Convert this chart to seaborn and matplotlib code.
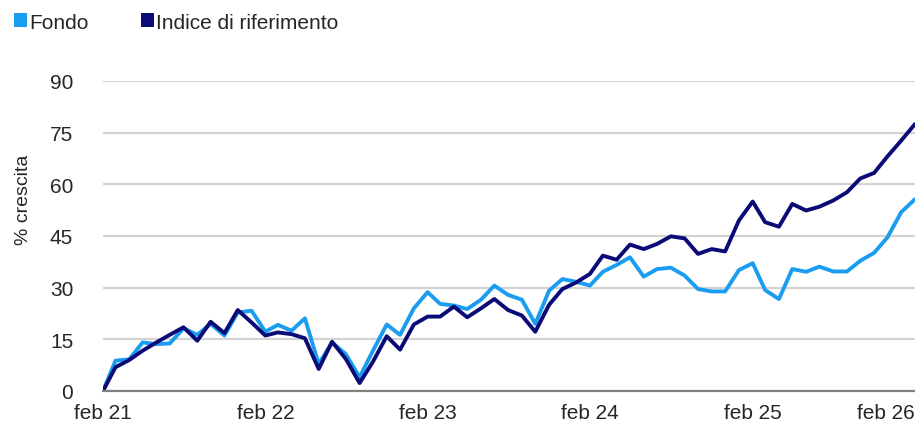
import pandas as pd
import seaborn as sns
import matplotlib.pyplot as plt
from matplotlib.patches import Patch

# monthly growth (%), feb 2021 -> feb 2026
months = pd.date_range("2021-02-01", periods=61, freq="MS")

fondo = [0, 8.8, 9.2, 14.1, 13.6, 13.8, 18.2, 16.3, 19.5, 16.1, 22.8, 23.3,
         17.2, 19.2, 17.5, 21.1, 7.8, 14.1, 10.7, 4.0, 11.7, 19.3, 16.3, 24.0,
         28.7, 25.3, 24.8, 23.8, 26.5, 30.6, 27.9, 26.5, 19.5, 29.1, 32.5, 31.7,
         30.6, 34.6, 36.6, 38.8, 33.2, 35.4, 35.8, 33.5, 29.6, 28.9, 28.9, 35.1,
         37.1, 29.3, 26.7, 35.4, 34.6, 36.1, 34.7, 34.7, 37.8, 40.1, 44.6, 51.9,
         55.7]
indice = [0, 6.9, 9.0, 11.7, 14.1, 16.3, 18.5, 14.6, 20.1, 16.8, 23.5, 19.9,
          16.1, 17.0, 16.5, 15.3, 6.4, 14.3, 9.3, 2.3, 8.5, 15.9, 12.0, 19.3,
          21.6, 21.6, 24.5, 21.4, 24.0, 26.7, 23.5, 21.9, 17.2, 25.0, 29.6, 31.5,
          34.0, 39.3, 38.1, 42.5, 41.2, 42.7, 44.9, 44.3, 39.8, 41.2, 40.5, 49.5,
          55.0, 49.0, 47.7, 54.3, 52.4, 53.5, 55.3, 57.7, 61.7, 63.3, 68.1, 72.7,
          77.5]

series_names = ["Fondo", "Indice di riferimento"]
colors = ["#1A9DF0", "#0B0B78"]
tick_dates = pd.date_range("2021-02-01", periods=6, freq="12MS")
tick_labels = ["feb 21", "feb 22", "feb 23", "feb 24", "feb 25", "feb 26"]
y_ticks = [0, 15, 30, 45, 60, 75, 90]

df = pd.DataFrame({"data": months, series_names[0]: fondo, series_names[1]: indice})
long = df.melt(id_vars="data", var_name="serie", value_name="crescita")

sns.set_style("white")
plt.rcParams["font.family"] = ["Liberation Sans", "DejaVu Sans"]

fig = plt.figure(figsize=(9.15, 4.27), dpi=100)
ax = fig.add_axes([0.1126, 0.082, 0.8874, 0.726])

sns.lineplot(data=long, x="data", y="crescita", hue="serie",
             palette=dict(zip(series_names, colors)), linewidth=2.8,
             legend=False, ax=ax)

ax.set_xlim(months[0], months[-1])
ax.set_ylim(0, 90)
ax.set_yticks(y_ticks)
ax.set_yticklabels([str(v) for v in y_ticks], fontsize=15)
ax.yaxis.grid(True, color="#D3D3D3", linewidth=1.6)
ax.set_axisbelow(True)
ax.tick_params(axis="y", length=0, pad=21.5)

ax.set_xticks(tick_dates)
ax.set_xticklabels(tick_labels, fontsize=15)
ax.get_xticklabels()[-1].set_ha("right")
ax.tick_params(axis="x", length=5, width=1.3, color="#808080", direction="out", pad=4)

for side in ["top", "right", "left"]:
    ax.spines[side].set_visible(False)
ax.spines["bottom"].set_color("#808080")
ax.spines["bottom"].set_linewidth(1.6)

ax.set_xlabel("")
ax.set_ylabel("% crescita", fontsize=14)
ax.yaxis.set_label_coords(-0.088, 0.62)

handles = [Patch(facecolor=c, edgecolor="none") for c in colors]
fig.legend(handles, series_names, loc="upper left", bbox_to_anchor=(0.0, 1.0),
           ncol=2, frameon=False, fontsize=15, handlelength=0.65, handleheight=0.65,
           handletextpad=0.1, columnspacing=2.5, borderaxespad=0.25)

fig.savefig("out.png", dpi=100)
